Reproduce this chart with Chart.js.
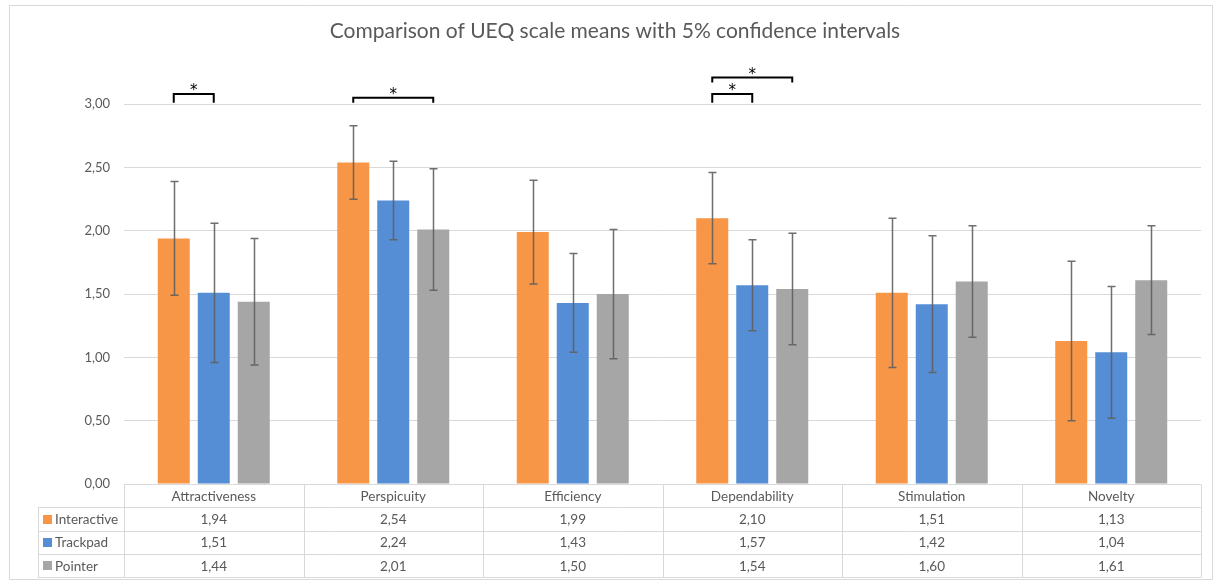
<!DOCTYPE html>
<html>
<head>
<meta charset="utf-8">
<title>UEQ scale means</title>
<script src="https://cdn.jsdelivr.net/npm/chart.js@4.4.1/dist/chart.umd.min.js"></script>
<style>
  html, body { margin: 0; padding: 0; background: #ffffff; }
  #wrap { position: relative; width: 1214px; height: 580px; }
</style>
</head>
<body>
<div id="wrap"><canvas id="ueq" width="1214" height="580"></canvas></div>
<script>
// UEQ scales and the three conditions
const categories = ['Attractiveness', 'Perspicuity', 'Efficiency', 'Dependability', 'Stimulation', 'Novelty'];
const seriesNames = ['Interactive', 'Trackpad', 'Pointer'];

// scale means per condition
const interactiveMeans = [1.94, 2.54, 1.99, 2.10, 1.51, 1.13];
const trackpadMeans    = [1.51, 2.24, 1.43, 1.57, 1.42, 1.04];
const pointerMeans     = [1.44, 2.01, 1.50, 1.54, 1.60, 1.61];

// half-width of the confidence interval per condition
const interactiveCI = [0.45, 0.29, 0.41, 0.36, 0.59, 0.63];
const trackpadCI    = [0.55, 0.31, 0.39, 0.36, 0.54, 0.52];
const pointerCI     = [0.50, 0.48, 0.51, 0.44, 0.44, 0.43];

// value axis
const yMin = 0;
const yMax = 3;
const yStep = 0.5;

// significant differences: [scale, from condition, to condition, bracket level, foot level]
const significance = [
  [0, 0, 1, 3.08, 3.02],
  [1, 0, 2, 3.05, 3.02],
  [3, 0, 1, 3.08, 3.02],
  [3, 0, 2, 3.21, 3.18]
];

const seriesColors = ['#F79646', '#558ED5', '#A6A6A6'];
const textColor = '#595959';
const lineColor = '#d9d9d9';
const fontFamily = 'Lato, "Open Sans", sans-serif';

const fmt = v => v.toFixed(2).replace('.', ',');

// vertical whiskers with caps for each bar
const errorBars = {
  id: 'errorBars',
  afterDatasetsDraw(chart) {
    const ctx = chart.ctx;
    const ys = chart.scales.y;
    ctx.save();
    ctx.strokeStyle = 'rgba(95,95,95,0.9)';
    ctx.lineWidth = 1.5;
    chart.data.datasets.forEach((ds, di) => {
      const meta = chart.getDatasetMeta(di);
      meta.data.forEach((bar, i) => {
        const v = ds.data[i], e = ds.ci[i];
        const x = Math.round(bar.x) + 0.5;
        const yt = ys.getPixelForValue(v + e);
        const yb = ys.getPixelForValue(v - e);
        ctx.beginPath();
        ctx.moveTo(x, yt); ctx.lineTo(x, yb);
        ctx.moveTo(x - 4, yt); ctx.lineTo(x + 4, yt);
        ctx.moveTo(x - 4, yb); ctx.lineTo(x + 4, yb);
        ctx.stroke();
      });
    });
    ctx.restore();
  }
};

// brackets with an asterisk marking significant pairs
const sigBrackets = {
  id: 'sigBrackets',
  afterDatasetsDraw(chart) {
    const ctx = chart.ctx;
    const ys = chart.scales.y;
    ctx.save();
    ctx.strokeStyle = '#000000';
    ctx.fillStyle = '#000000';
    ctx.lineWidth = 2;
    ctx.lineCap = 'square';
    ctx.font = '15px "DejaVu Sans", sans-serif';
    ctx.textAlign = 'center';
    ctx.textBaseline = 'alphabetic';
    significance.forEach(([cat, a, b, level, foot]) => {
      const x1 = chart.getDatasetMeta(a).data[cat].x;
      const x2 = chart.getDatasetMeta(b).data[cat].x;
      const yTop = ys.getPixelForValue(level);
      const yFoot = ys.getPixelForValue(foot);
      ctx.beginPath();
      ctx.moveTo(x1, yFoot); ctx.lineTo(x1, yTop); ctx.lineTo(x2, yTop); ctx.lineTo(x2, yFoot);
      ctx.stroke();
      ctx.fillText('*', (x1 + x2) / 2, yTop + 1);
    });
    ctx.restore();
  }
};

// data table under the plot plus the outer frame
const dataTable = {
  id: 'dataTable',
  afterDraw(chart) {
    const ctx = chart.ctx;
    const area = chart.chartArea;
    const n = categories.length;
    const colW = (area.right - area.left) / n;
    const top = area.bottom;
    const rowH = 23.25;
    const bottom = top + rowH * (seriesNames.length + 1);
    const keyLeft = 38;
    const px = v => Math.round(v) + 0.5;

    ctx.save();
    ctx.strokeStyle = lineColor;
    ctx.lineWidth = 1;
    ctx.beginPath();
    // outer frame
    ctx.rect(9.5, 5.5, 1203, 574);
    // horizontal rules
    ctx.moveTo(area.left, px(top)); ctx.lineTo(area.right, px(top));
    for (let r = 1; r <= seriesNames.length + 1; r++) {
      const y = px(top + r * rowH);
      ctx.moveTo(keyLeft, y); ctx.lineTo(area.right, y);
    }
    // vertical rules
    ctx.moveTo(px(keyLeft), px(top + rowH)); ctx.lineTo(px(keyLeft), px(bottom));
    for (let c = 0; c <= n; c++) {
      const x = px(area.left + c * colW);
      ctx.moveTo(x, px(top)); ctx.lineTo(x, px(bottom));
    }
    ctx.stroke();

    ctx.fillStyle = textColor;
    ctx.font = '13.5px ' + fontFamily;
    ctx.textBaseline = 'middle';
    ctx.textAlign = 'center';
    categories.forEach((name, c) => {
      ctx.fillText(name, area.left + (c + 0.5) * colW, top + rowH / 2 + 1);
    });
    chart.data.datasets.forEach((ds, di) => {
      const yMid = top + (di + 1.5) * rowH + 1;
      ctx.fillStyle = ds.backgroundColor;
      ctx.fillRect(43, Math.round(yMid - 5), 9, 9);
      ctx.fillStyle = textColor;
      ctx.textAlign = 'left';
      ctx.fillText(ds.label, 55, yMid);
      ctx.textAlign = 'center';
      ds.data.forEach((v, c) => {
        ctx.fillText(fmt(v), area.left + (c + 0.5) * colW, yMid);
      });
    });
    ctx.restore();
  }
};

const means = [interactiveMeans, trackpadMeans, pointerMeans];
const cis = [interactiveCI, trackpadCI, pointerCI];

new Chart(document.getElementById('ueq'), {
  type: 'bar',
  data: {
    labels: categories,
    datasets: seriesNames.map((name, i) => ({
      label: name,
      data: means[i],
      ci: cis[i],
      backgroundColor: seriesColors[i],
      borderWidth: 0,
      categoryPercentage: 0.6685,
      barPercentage: 0.8
    }))
  },
  options: {
    responsive: false,
    animation: false,
    layout: { padding: { left: 29, right: 13, top: 0, bottom: 96 } },
    plugins: {
      legend: { display: false },
      tooltip: { enabled: false },
      title: {
        display: true,
        text: 'Comparison of UEQ scale means with 5% confidence intervals',
        color: textColor,
        font: { family: fontFamily, size: 21, weight: 'normal' },
        padding: { top: 19, bottom: 60 }
      }
    },
    scales: {
      x: { display: false },
      y: {
        min: yMin,
        max: yMax,
        afterFit(scale) { scale.width = 95; },
        ticks: {
          stepSize: yStep,
          padding: 14,
          color: textColor,
          font: { family: fontFamily, size: 13 },
          callback: v => fmt(v)
        },
        grid: { color: lineColor, lineWidth: 1, drawTicks: false },
        border: { display: false }
      }
    }
  },
  plugins: [errorBars, sigBrackets, dataTable]
});
</script>
</body>
</html>
